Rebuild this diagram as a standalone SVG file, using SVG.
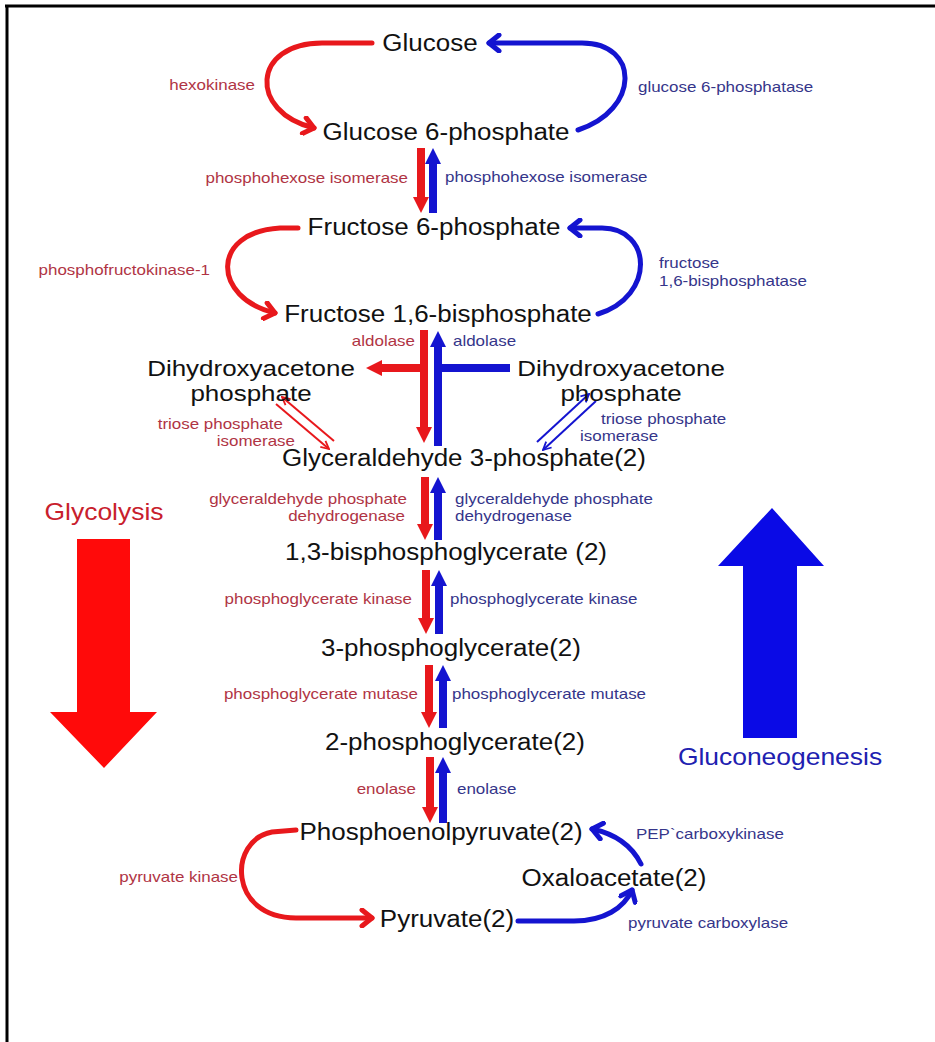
<svg xmlns="http://www.w3.org/2000/svg" width="935" height="1042" viewBox="0 0 935 1042">
<style>
.n{font-family:"Liberation Sans",Arial,sans-serif;font-size:23px;fill:#111;text-anchor:middle}
.d{font-family:"Liberation Sans",Arial,sans-serif;font-size:22px;fill:#111;text-anchor:middle}
.lr{font-family:"Liberation Sans",Arial,sans-serif;font-size:15px;fill:#b03444;text-anchor:end}
.lb{font-family:"Liberation Sans",Arial,sans-serif;font-size:15px;fill:#35358a}
.big{font-family:"Liberation Sans",Arial,sans-serif;font-size:23px;text-anchor:middle}
.cr{fill:none;stroke:#e8181c;stroke-width:5;stroke-linecap:round}
.cb{fill:none;stroke:#1414d0;stroke-width:5;stroke-linecap:round}
.vr{stroke:#e8181c;stroke-width:8}
.vb{stroke:#1414d0;stroke-width:8}
.tr{stroke:#e8181c;stroke-width:2}
.tb{stroke:#1414d0;stroke-width:2}
</style>
<defs>
<marker id="chR" markerUnits="userSpaceOnUse" viewBox="0 0 20 20" markerWidth="20" markerHeight="20" refX="15" refY="10" orient="auto"><path d="M5,2 L15,10 L5,18" fill="none" stroke="#e8181c" stroke-width="5" stroke-linecap="round" stroke-linejoin="round"/></marker>
<marker id="chB" markerUnits="userSpaceOnUse" viewBox="0 0 20 20" markerWidth="20" markerHeight="20" refX="15" refY="10" orient="auto"><path d="M5,2 L15,10 L5,18" fill="none" stroke="#1414d0" stroke-width="5" stroke-linecap="round" stroke-linejoin="round"/></marker>
<marker id="trR" markerUnits="userSpaceOnUse" viewBox="0 0 16 16" markerWidth="16" markerHeight="16" refX="1" refY="8" orient="auto"><path d="M0,0 L16,8 L0,16 z" fill="#e8181c"/></marker>
<marker id="trB" markerUnits="userSpaceOnUse" viewBox="0 0 16 16" markerWidth="16" markerHeight="16" refX="1" refY="8" orient="auto"><path d="M0,0 L16,8 L0,16 z" fill="#1414d0"/></marker>
<marker id="smR" markerUnits="userSpaceOnUse" viewBox="0 0 10 10" markerWidth="10" markerHeight="10" refX="9" refY="5" orient="auto"><path d="M1,1 L9,5 L1,9" fill="none" stroke="#e8181c" stroke-width="1.8"/></marker>
<marker id="smB" markerUnits="userSpaceOnUse" viewBox="0 0 10 10" markerWidth="10" markerHeight="10" refX="9" refY="5" orient="auto"><path d="M1,1 L9,5 L1,9" fill="none" stroke="#1414d0" stroke-width="1.8"/></marker>
</defs>
<rect width="935" height="1042" fill="#fff"/>
<g id="border" stroke="#000" stroke-width="3" fill="none">
<line x1="5" y1="6" x2="935" y2="6"/>
<line x1="7" y1="5" x2="7" y2="1042"/>
</g>
<g id="connectors">
<path class="cr" d="M372,43 L322,43 C252,43 248,112 314,128" marker-end="url(#chR)"/>
<path class="cb" d="M578,130 C640,110 640,43 582,43 L489,43" marker-end="url(#chB)"/>
<line class="vr" x1="421" y1="148" x2="421" y2="198" marker-end="url(#trR)"/>
<line class="vb" x1="433" y1="213" x2="433" y2="163" marker-end="url(#trB)"/>
<path class="cr" d="M298,228 L280,228 C210,232 212,298 275,313" marker-end="url(#chR)"/>
<path class="cb" d="M598,314 C656,296 652,228 602,228 L570,228" marker-end="url(#chB)"/>
<line class="vr" x1="424" y1="330" x2="424" y2="428" marker-end="url(#trR)"/>
<line class="vr" x1="428" y1="368" x2="381" y2="368" marker-end="url(#trR)"/>
<line class="vb" x1="438" y1="446" x2="438" y2="346" marker-end="url(#trB)"/>
<line class="vb" x1="434" y1="368" x2="510" y2="368"/>
<line class="tr" x1="334" y1="441" x2="282" y2="397" marker-end="url(#smR)"/>
<line class="tr" x1="276" y1="404" x2="329" y2="449" marker-end="url(#smR)"/>
<line class="tb" x1="537" y1="442" x2="589" y2="394" marker-end="url(#smB)"/>
<line class="tb" x1="596" y1="401" x2="543" y2="450" marker-end="url(#smB)"/>
<line class="vr" x1="425" y1="477" x2="425" y2="525" marker-end="url(#trR)"/>
<line class="vb" x1="438" y1="540" x2="438" y2="492" marker-end="url(#trB)"/>
<line class="vr" x1="426" y1="570" x2="426" y2="619" marker-end="url(#trR)"/>
<line class="vb" x1="439" y1="634" x2="439" y2="585" marker-end="url(#trB)"/>
<line class="vr" x1="429" y1="665" x2="429" y2="713" marker-end="url(#trR)"/>
<line class="vb" x1="443" y1="728" x2="443" y2="680" marker-end="url(#trB)"/>
<line class="vr" x1="430" y1="757" x2="430" y2="808" marker-end="url(#trR)"/>
<line class="vb" x1="443" y1="823" x2="443" y2="772" marker-end="url(#trB)"/>
<path class="cr" d="M296,830 L272,832 C228,840 228,918 296,918 L372,918" marker-end="url(#chR)"/>
<path class="cb" d="M518,921 L574,921 C604,921 624,908 632,890" marker-end="url(#chB)"/>
<path class="cb" d="M641,864 C632,846 616,834 592,829" marker-end="url(#chB)"/>
</g>
<g id="glycolysis-arrow">
<polygon points="77,539 130,539 130,712 157,712 104,768 50,712 77,712" fill="#ff0a0a"/>
<text class="big" fill="#c8202c" transform="translate(104,520) scale(1.15,1)">Glycolysis</text>
</g>
<g id="gluconeogenesis-arrow">
<polygon points="772,508 824,566 797,566 797,738 743,738 743,566 718,566" fill="#0a0ae6"/>
<text class="big" fill="#2020b0" transform="translate(780,765) scale(1.15,1)">Gluconeogenesis</text>
</g>
<g id="glucose"><text class="n" transform="translate(430,51) scale(1.13,1)">Glucose</text></g>
<g id="g6p"><text class="n" transform="translate(446,140) scale(1.13,1)">Glucose 6-phosphate</text></g>
<g id="f6p"><text class="n" transform="translate(434,235) scale(1.13,1)">Fructose 6-phosphate</text></g>
<g id="f16bp"><text class="n" transform="translate(438,322) scale(1.13,1)">Fructose 1,6-bisphosphate</text></g>
<g id="dhap-left"><text class="d" transform="translate(251,376) scale(1.18,1)">Dihydroxyacetone</text><text class="d" transform="translate(251,401) scale(1.18,1)">phosphate</text></g>
<g id="dhap-right"><text class="d" transform="translate(621,376) scale(1.18,1)">Dihydroxyacetone</text><text class="d" transform="translate(621,401) scale(1.18,1)">phosphate</text></g>
<g id="gap"><text class="n" transform="translate(464,466) scale(1.13,1)">Glyceraldehyde 3-phosphate(2)</text></g>
<g id="bpg"><text class="n" transform="translate(446,560) scale(1.13,1)">1,3-bisphosphoglycerate (2)</text></g>
<g id="pg3"><text class="n" transform="translate(451,656) scale(1.13,1)">3-phosphoglycerate(2)</text></g>
<g id="pg2"><text class="n" transform="translate(455,750) scale(1.13,1)">2-phosphoglycerate(2)</text></g>
<g id="pep"><text class="n" transform="translate(441,840) scale(1.13,1)">Phosphoenolpyruvate(2)</text></g>
<g id="oaa"><text class="n" transform="translate(614,886) scale(1.13,1)">Oxaloacetate(2)</text></g>
<g id="pyruvate"><text class="n" transform="translate(447,927) scale(1.13,1)">Pyruvate(2)</text></g>
<g id="labels">
<text class="lr" transform="translate(255,90) scale(1.13,1)">hexokinase</text>
<text class="lb" transform="translate(638,92) scale(1.13,1)">glucose 6-phosphatase</text>
<text class="lr" transform="translate(408,183) scale(1.13,1)">phosphohexose isomerase</text>
<text class="lb" transform="translate(445,182) scale(1.13,1)">phosphohexose isomerase</text>
<text class="lr" transform="translate(210,275) scale(1.13,1)">phosphofructokinase-1</text>
<text class="lb" transform="translate(659,268) scale(1.13,1)">fructose</text>
<text class="lb" transform="translate(659,286) scale(1.13,1)">1,6-bisphosphatase</text>
<text class="lr" transform="translate(415,346) scale(1.13,1)">aldolase</text>
<text class="lb" transform="translate(453,346) scale(1.13,1)">aldolase</text>
<text class="lr" transform="translate(283,429) scale(1.13,1)">triose phosphate</text>
<text class="lr" transform="translate(295,446) scale(1.13,1)">isomerase</text>
<text class="lb" transform="translate(601,424) scale(1.13,1)">triose phosphate</text>
<text class="lb" transform="translate(580,441) scale(1.13,1)">isomerase</text>
<text class="lr" transform="translate(407,504) scale(1.13,1)">glyceraldehyde phosphate</text>
<text class="lr" transform="translate(405,521) scale(1.13,1)">dehydrogenase</text>
<text class="lb" transform="translate(455,504) scale(1.13,1)">glyceraldehyde phosphate</text>
<text class="lb" transform="translate(455,521) scale(1.13,1)">dehydrogenase</text>
<text class="lr" transform="translate(412,604) scale(1.13,1)">phosphoglycerate kinase</text>
<text class="lb" transform="translate(450,604) scale(1.13,1)">phosphoglycerate kinase</text>
<text class="lr" transform="translate(418,699) scale(1.13,1)">phosphoglycerate mutase</text>
<text class="lb" transform="translate(452,699) scale(1.13,1)">phosphoglycerate mutase</text>
<text class="lr" transform="translate(416,794) scale(1.13,1)">enolase</text>
<text class="lb" transform="translate(457,794) scale(1.13,1)">enolase</text>
<text class="lb" transform="translate(636,839) scale(1.13,1)">PEP`carboxykinase</text>
<text class="lr" transform="translate(238,882) scale(1.13,1)">pyruvate kinase</text>
<text class="lb" transform="translate(628,928) scale(1.13,1)">pyruvate carboxylase</text>
</g>
</svg>
